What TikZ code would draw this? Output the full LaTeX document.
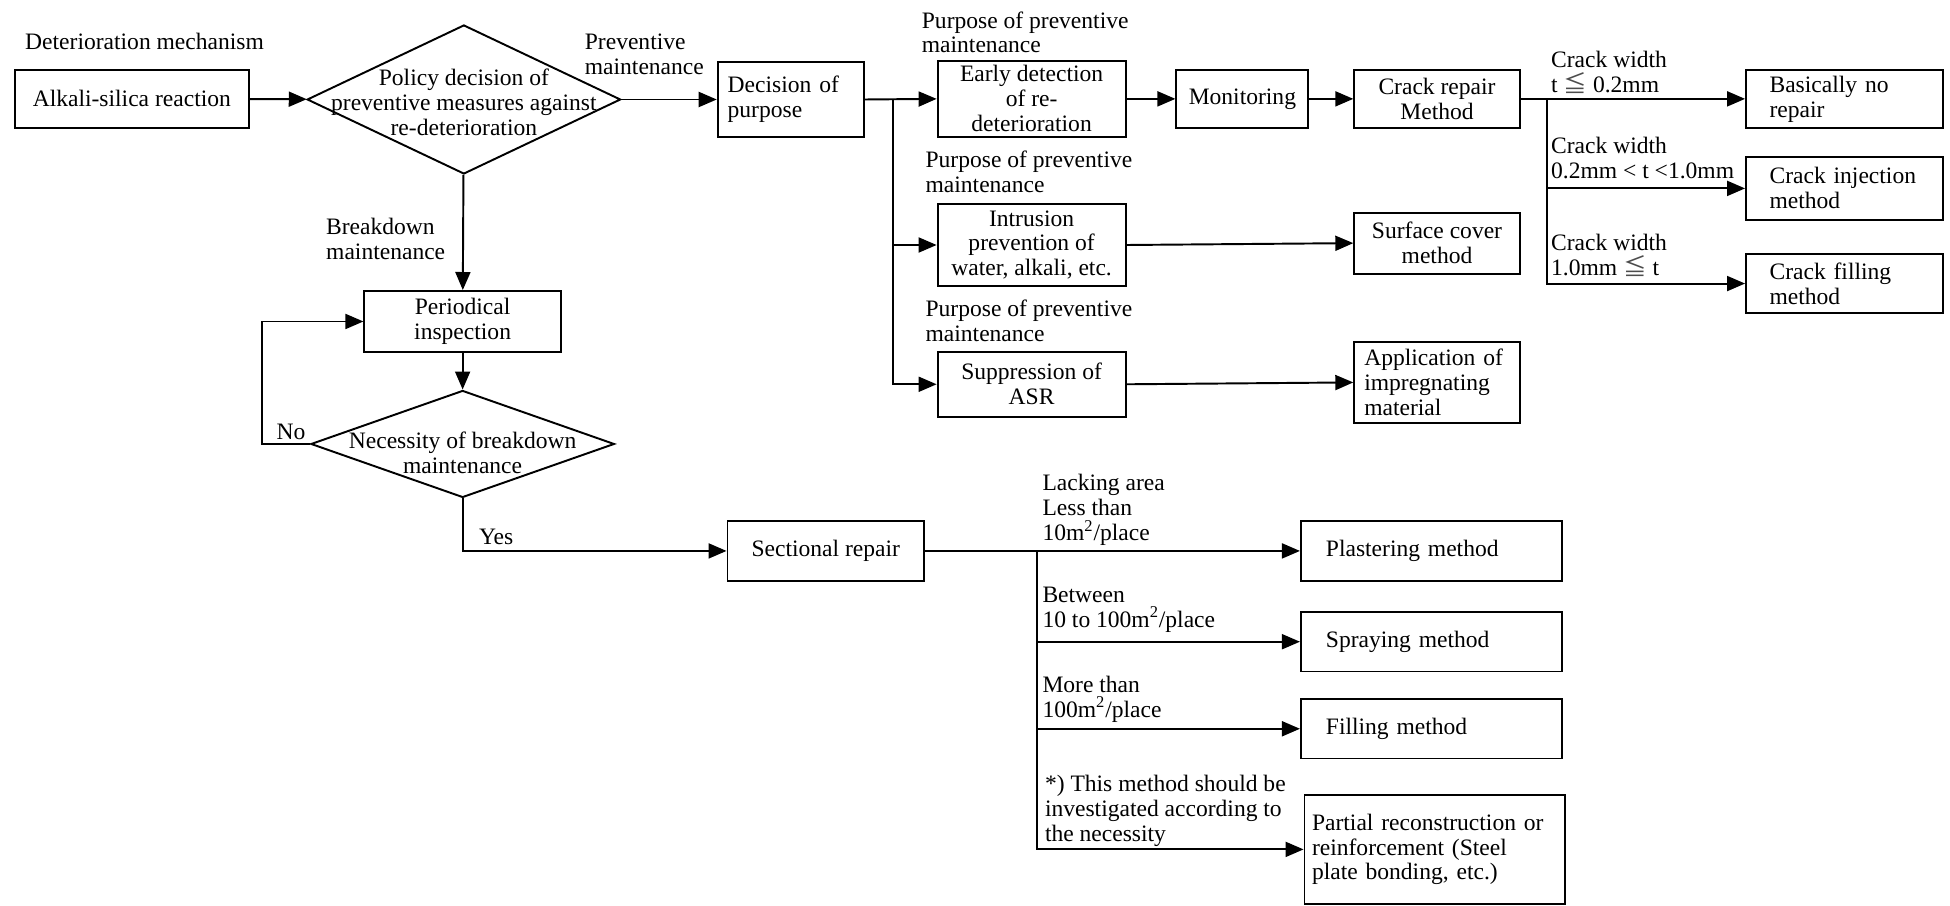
\documentclass[tikz,border=0pt]{standalone}
\usepackage{fontspec}
\setmainfont{Liberation Serif}
\newfontfamily\cjkfont{Noto Sans CJK JP}
\usetikzlibrary{arrows.meta,shapes.geometric}

\newcommand{\cwle}{{\cjkfont\color{black!70}≦}}

\tikzset{
  txtfont/.style={font=\fontsize{13.4pt}{14.2pt}\selectfont},
  box/.style={draw, line width=1.1pt, rectangle, inner sep=0pt, align=center, txtfont},
  lbox/.style={box, align=left},
  decision/.style={draw, line width=1.1pt, diamond, inner sep=0pt},
  txt/.style={inner sep=0pt, align=center, txtfont},
  lbl/.style={inner sep=0pt, align=left, anchor=west, txtfont},
  flow/.style={line width=1.1pt, -{Triangle[length=0.36cm,width=0.3cm]}},
}

\begin{document}
\begin{tikzpicture}[x=0.02487cm, y=-0.02487cm]
\useasboundingbox (0,0) rectangle (1568,728);

% left column
\node[lbl] (detmech) at (20,33) {Deterioration mechanism};
\node[box, minimum width=4.68cm, minimum height=1.17cm] (asr) at (106,79.5) {Alkali-silica reaction};
\node[decision, minimum width=6.27cm, minimum height=2.98cm] (policy) at (373,80) {};
\node[txt] (policytxt) at (373,82) {Policy decision of\\preventive measures against\\re-deterioration};
\node[lbl] (prevlbl) at (470,44) {Preventive\\maintenance};
\node[lbl] (breaklbl) at (262,192) {Breakdown\\maintenance};
\node[box, minimum width=3.93cm, minimum height=1.22cm] (periodic) at (372,258.5) {Periodical\\inspection};
\node[decision, minimum width=6.07cm, minimum height=2.14cm] (need) at (372,357) {};
\node[txt] (needtxt) at (372,364) {Necessity of breakdown\\maintenance};
\node[txt] (nolbl) at (234,347) {No};
\node[txt] (yeslbl) at (399,432) {Yes};
\coordinate (noturn) at (211,357);

% preventive maintenance
\node[lbox, minimum height=1.49cm, inner xsep=0.2cm, text width=2.53cm] (purpose) at (636,80) {Decision of\\purpose};
\coordinate (br1) at (718,80);
\node[lbl] (purp1) at (741,26) {Purpose of preventive\\maintenance};
\node[lbl] (purp2) at (744,138) {Purpose of preventive\\maintenance};
\node[lbl] (purp3) at (744,258) {Purpose of preventive\\maintenance};
\node[box, minimum width=3.76cm, minimum height=1.52cm] (early) at (829.5,79.5) {Early detection\\of re-\\deterioration};
\node[box, minimum width=3.76cm, minimum height=1.64cm] (intrusion) at (829.5,197) {Intrusion\\prevention of\\water, alkali, etc.};
\node[box, minimum width=3.76cm, minimum height=1.29cm] (suppress) at (829.5,309) {Suppression of\\ASR};
\node[box, minimum width=2.64cm, minimum height=1.17cm] (monitor) at (999,79.5) {Monitoring};
\node[box, minimum width=3.31cm, minimum height=1.17cm] (crack) at (1155.5,79.5) {Crack repair\\Method};
\node[box, minimum width=3.31cm, minimum height=1.22cm] (surface) at (1155.5,195.5) {Surface cover\\method};
\node[lbox, minimum height=1.62cm, inner xsep=0.2cm, text width=2.91cm] (impreg) at (1155.5,307.5) {Application of\\impregnating\\material};

% crack repair
\coordinate (br2) at (1244,80);
\node[lbl] (cw1) at (1247,58) {Crack width\\t \cwle{} 0.2mm};
\node[lbl] (cw2) at (1247,127) {Crack width\\0.2mm < t <1.0mm};
\node[lbl] (cw3) at (1247,205) {Crack width\\1.0mm \cwle{} t};
\node[lbox, minimum height=1.17cm, inner xsep=0.47cm, text width=2.99cm] (norepair) at (1483,79.5) {Basically no\\repair};
\node[lbox, minimum height=1.27cm, inner xsep=0.47cm, text width=2.99cm] (inject) at (1483,151.5) {Crack injection\\method};
\node[lbox, minimum height=1.19cm, inner xsep=0.47cm, text width=2.99cm] (fillcrack) at (1483,228) {Crack filling\\method};

% sectional repair
\node[box, minimum width=3.93cm, minimum height=1.19cm] (section) at (664,443) {Sectional repair};
\coordinate (br3) at (834,443);
\node[lbl] (area1) at (838,410) {Lacking area\\Less than\\10m\textsuperscript{2}/place};
\node[lbl] (area2) at (838,490) {Between\\10 to 100m\textsuperscript{2}/place};
\node[lbl] (area3) at (838,562) {More than\\100m\textsuperscript{2}/place};
\node[lbl] (area4) at (840,652) {*) This method should be\\investigated according to\\the necessity};
\node[lbox, minimum height=1.19cm, inner xsep=0.5cm, text width=4.22cm] (plaster) at (1151,443) {Plastering method};
\node[lbox, minimum height=1.19cm, inner xsep=0.5cm, text width=4.22cm] (spray) at (1151,516) {Spraying method};
\node[lbox, minimum height=1.19cm, inner xsep=0.5cm, text width=4.22cm] (fillm) at (1151,586) {Filling method};
\node[lbox, minimum height=2.19cm, inner xsep=0.15cm, text width=4.9cm] (partial) at (1153.5,683) {Partial reconstruction or\\reinforcement (Steel\\plate bonding, etc.)};

\draw[flow] (asr) -- (policy);
\draw[flow] (policy) -- (purpose);
\draw[flow] (policy) -- (periodic);
\draw[flow] (periodic) -- (need);
\draw[flow] (need.west) -- (noturn) |- (periodic.west);
\draw[flow] (need.south) |- (section.west);

\draw[flow] (purpose.east) -- (early.west);
\draw[flow] (br1) |- (intrusion.west);
\draw[flow] (br1) |- (suppress.west);
\draw[flow] (early) -- (monitor);
\draw[flow] (monitor) -- (crack);
\draw[flow] (intrusion.east) -- (surface.west);
\draw[flow] (suppress.east) -- (impreg.west);

\draw[flow] (crack.east) -- (norepair.west);
\draw[flow] (br2) |- (inject.west);
\draw[flow] (br2) |- (fillcrack.west);

\draw[flow] (section.east) -- (plaster.west);
\draw[flow] (br3) |- (spray.west);
\draw[flow] (br3) |- (fillm.west);
\draw[flow] (br3) |- (partial.west);
\end{tikzpicture}
\end{document}
